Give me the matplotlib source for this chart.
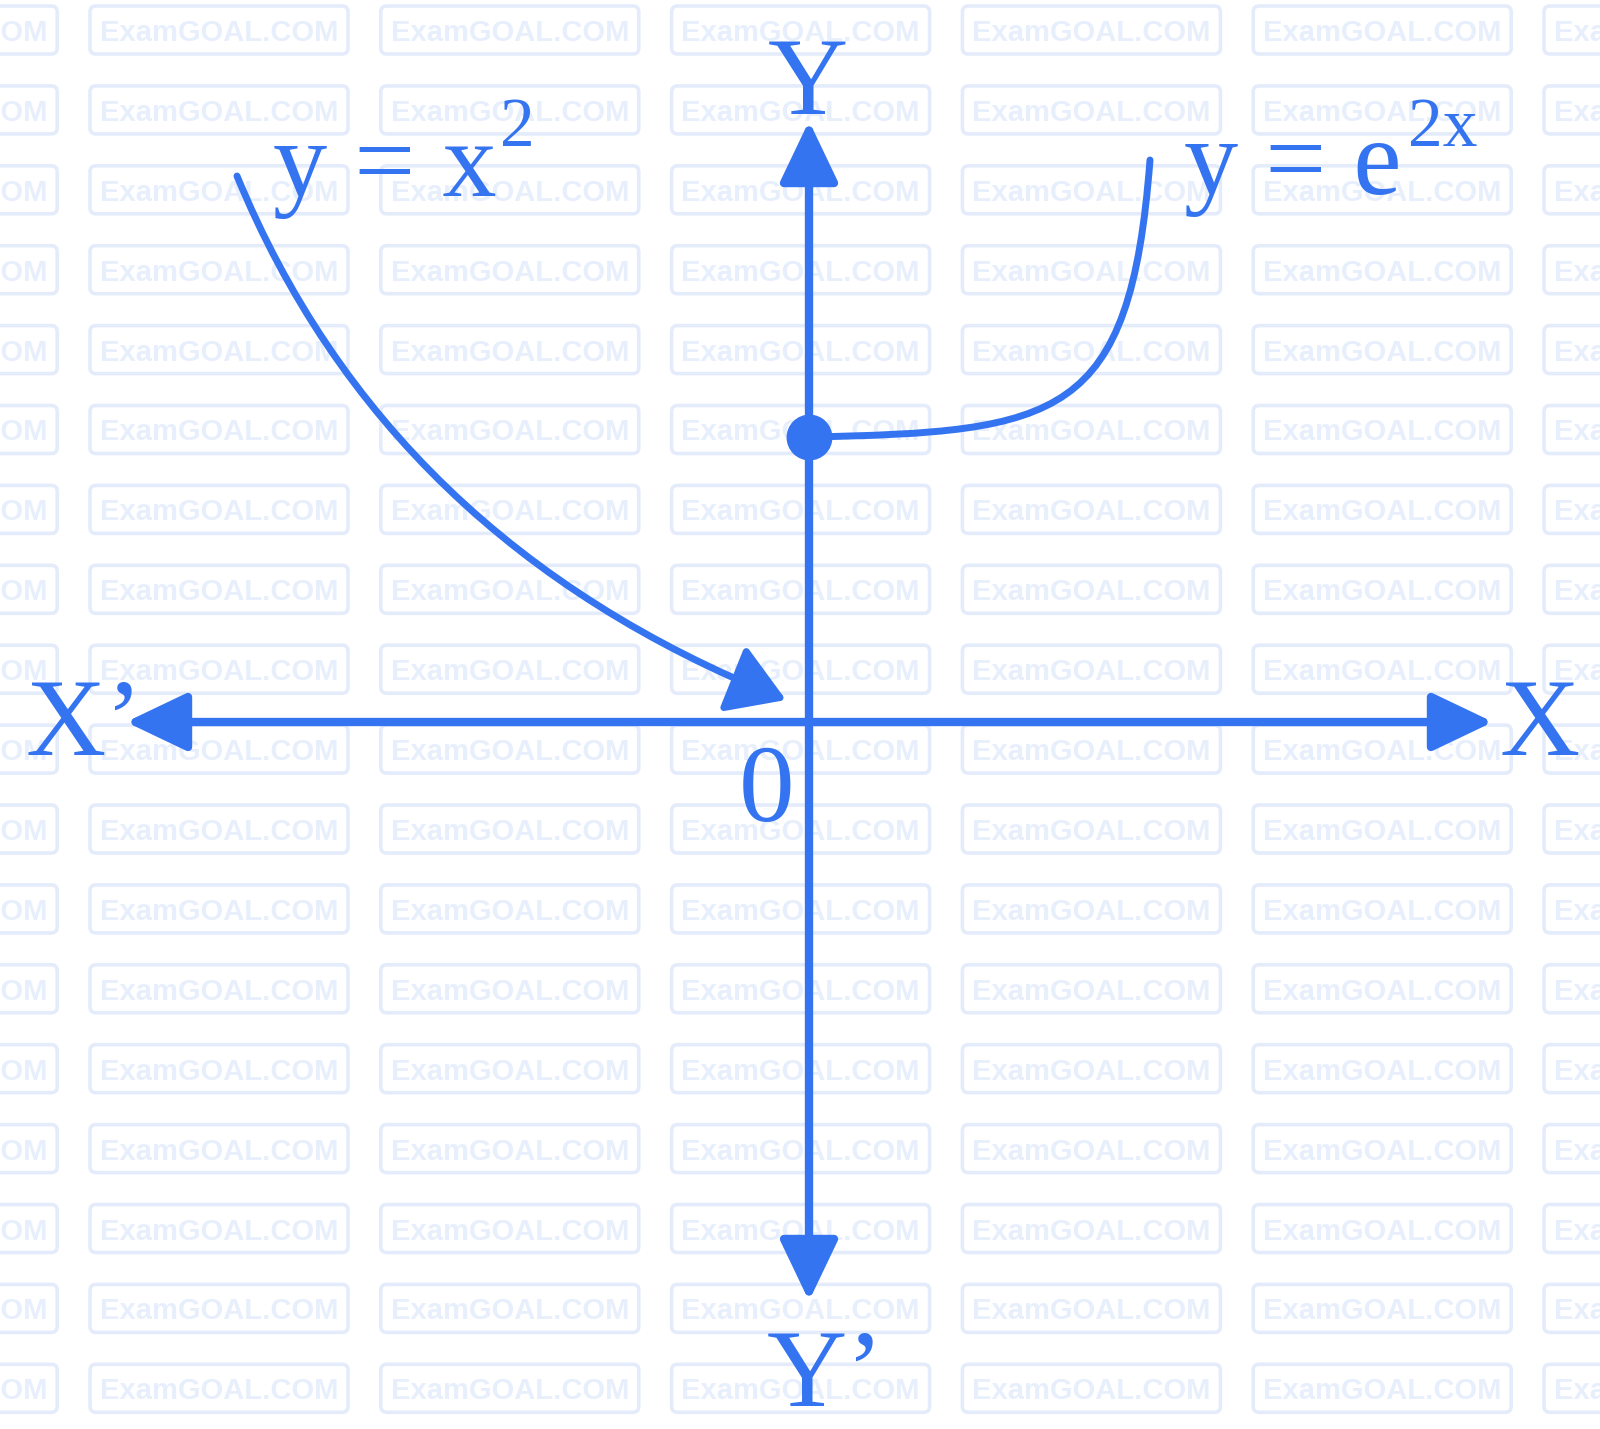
import matplotlib
matplotlib.use("Agg")
import matplotlib.pyplot as plt
from matplotlib.patches import FancyArrowPatch, FancyBboxPatch, PathPatch
from matplotlib.path import Path

BLUE = '#3574F0'
WM_TEXT = '#E7EEFC'
WM_EDGE = '#E4ECFB'

# ---- data (units: 1 = 100 px, origin at axes crossing) ----
x_axis_span = [-6.83, 6.84]
y_axis_span = [-5.79, 6.01]
parabola_x = [-5.72, -4.22, -0.23]   # quadratic Bezier: start, control, end
parabola_y = [5.46, 1.82, 0.22]
exp_x = [0.0, 2.51, 3.21, 3.41]      # cubic Bezier: start, c1, c2, end
exp_y = [2.85, 2.90, 3.02, 5.62]
dot_x = [0.0]
dot_y = [2.85]
axis_labels = ["X\u2019", "X", "Y", "Y\u2019", "0"]
curve_labels = ["y = x", "y = e"]
curve_sups = ["2", "2x"]

W, H = 1600, 1429
OX, OY = 809, 722
def px(x, y):
    return (x - OX) / 100.0, (OY - y) / 100.0

fig = plt.figure(figsize=(16, 14.29), dpi=100)
ax = fig.add_axes([0, 0, 1, 1])
ax.set_xlim(-OX / 100.0, (W - OX) / 100.0)
ax.set_ylim(-(H - OY) / 100.0, OY / 100.0)
ax.axis('off')

# ---- watermark grid ----
col_period, row_period = 290.8, 79.9
bw, bh = 258, 48
for i in range(-1, 6):
    left = 90 + i * col_period
    for j in range(18):
        top = 6 + j * row_period
        x0, y1 = px(left, top)
        x1, y0 = px(left + bw, top + bh)
        box = FancyBboxPatch((x0, y0), x1 - x0, y1 - y0,
                             boxstyle="round,pad=0,rounding_size=0.06",
                             fill=False, ec=WM_EDGE, lw=2.6, zorder=0)
        ax.add_patch(box)
        ax.text((x0 + x1) / 2, (y0 + y1) / 2, "ExamGOAL.COM",
                family='Liberation Sans', weight='bold', fontsize=21,
                color=WM_TEXT, ha='center', va='center_baseline', zorder=0)

# ---- axes arrows ----
hstyle = "<|-|>,head_length=37.7,head_width=18"
ax.add_patch(FancyArrowPatch((x_axis_span[0], 0), (x_axis_span[1], 0),
                             arrowstyle=hstyle, mutation_scale=1, color=BLUE,
                             lw=6, shrinkA=0, shrinkB=0, zorder=3))
ax.add_patch(FancyArrowPatch((0, y_axis_span[0]), (0, y_axis_span[1]),
                             arrowstyle=hstyle, mutation_scale=1, color=BLUE,
                             lw=6, shrinkA=0, shrinkB=0, zorder=3))

# ---- curves ----
ppath = Path(list(zip(parabola_x, parabola_y)),
             [Path.MOVETO, Path.CURVE3, Path.CURVE3])
ax.add_patch(FancyArrowPatch(path=ppath, arrowstyle="-|>,head_length=34.8,head_width=21.7",
                             mutation_scale=1, color=BLUE, lw=5,
                             capstyle='round', zorder=3))
epath = Path(list(zip(exp_x, exp_y)),
             [Path.MOVETO, Path.CURVE4, Path.CURVE4, Path.CURVE4])
ax.add_patch(PathPatch(epath, fill=False, ec=BLUE, lw=5,
                       capstyle='round', zorder=3))
ax.plot(dot_x, dot_y, 'o', ms=32, color=BLUE, zorder=4)

# ---- labels ----
serif = dict(family='Liberation Serif', color=BLUE, zorder=5)
pos = [px(26, 755), px(1500, 755), px(808, 114), px(767, 1406), px(767, 821)]
has = ['left', 'left', 'center', 'left', 'center']
for lab, (lx, ly), h in zip(axis_labels, pos, has):
    ax.text(lx, ly, lab, ha=h, va='baseline', fontsize=80, **serif)

cpos = [px(273, 196), px(1184, 194)]
spos = [px(500, 146), px(1408, 146)]
for lab, (lx, ly), sup, (sx, sy) in zip(curve_labels, cpos, curve_sups, spos):
    ax.text(lx, ly, lab, ha='left', va='baseline', fontsize=78, **serif)
    ax.text(sx, sy, sup, ha='left', va='baseline', fontsize=50, **serif)

fig.savefig("out.png", dpi=100)
